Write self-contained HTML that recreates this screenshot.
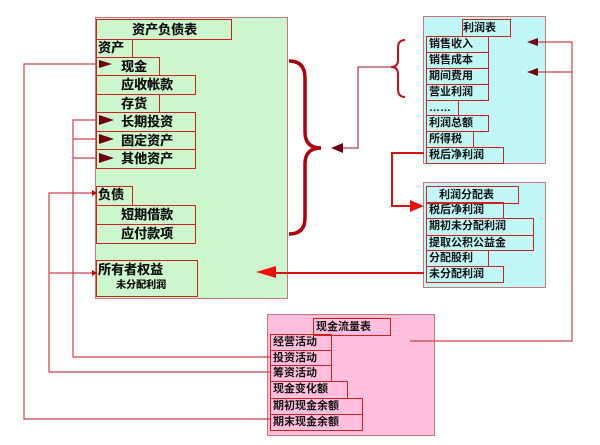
<!DOCTYPE html>
<html><head><meta charset="utf-8"><style>
body{margin:0;width:600px;height:445px;background:#fff;position:relative;overflow:hidden;font-family:"Liberation Sans","Noto Sans CJK SC","WenQuanYi Zen Hei",sans-serif;font-weight:bold;color:#111}
.box{position:absolute;box-sizing:border-box;border:1.5px solid #c87878}
.c{position:absolute;box-sizing:border-box;border:1.3px solid #d02020;font-size:11px;line-height:1;white-space:nowrap;padding:2px 0 0 2px;overflow:visible}
.t{font-size:13px;text-shadow:0.3px 0 0 #111}
svg{position:absolute;left:0;top:0}
</style></head><body>
<div class="box" style="left:95px;top:17px;width:193px;height:282px;background:#ccf7cc"></div>
<div class="box" style="left:423px;top:16px;width:123px;height:148px;background:#c0f7f7"></div>
<div class="box" style="left:423px;top:182px;width:123px;height:106px;background:#c0f7f7"></div>
<div class="box" style="left:267px;top:314px;width:168px;height:122px;background:#ffbfdd"></div>

<div class="c t" style="left:96px;top:19px;width:136px;height:21px;padding:3px 0 0 35px">资产负债表</div>
<div class="c t" style="left:96px;top:39px;width:37px;height:19px;padding:1px 0 0 1px">资产</div>
<div class="c t" style="left:96px;top:57px;width:64px;height:19px;padding:2px 0 0 24px">现金</div>
<div class="c t" style="left:96px;top:75px;width:100px;height:20px;padding:2px 0 0 24px">应收帐款</div>
<div class="c t" style="left:96px;top:94px;width:64px;height:19px;padding:2px 0 0 24px">存货</div>
<div class="c t" style="left:96px;top:112px;width:100px;height:20px;padding:2px 0 0 24px">长期投资</div>
<div class="c t" style="left:96px;top:131px;width:100px;height:19px;padding:2px 0 0 24px">固定资产</div>
<div class="c t" style="left:96px;top:149px;width:100px;height:20px;padding:2px 0 0 24px">其他资产</div>
<div class="c t" style="left:96px;top:186px;width:37px;height:20px;padding:1px 0 0 1px">负债</div>
<div class="c t" style="left:96px;top:205px;width:100px;height:20px;padding:2px 0 0 24px">短期借款</div>
<div class="c t" style="left:96px;top:224px;width:100px;height:20px;padding:2px 0 0 24px">应付款项</div>
<div class="c t" style="left:96px;top:260px;width:102px;height:37px;padding:2px 0 0 1px">所有者权益<br><span style="font-size:10px;display:inline-block;margin:5px 0 0 18px">未分配利润</span></div>

<div class="c" style="left:462px;top:19px;width:49px;height:18px;padding:3px 0 0 0">利润表</div>
<div class="c" style="left:426px;top:36px;width:63px;height:17px">销售收入</div>
<div class="c" style="left:426px;top:52px;width:63px;height:17px">销售成本</div>
<div class="c" style="left:426px;top:68px;width:63px;height:17px">期间费用</div>
<div class="c" style="left:426px;top:84px;width:63px;height:17px">营业利润</div>
<div class="c" style="left:426px;top:100px;width:33px;height:16px">……</div>
<div class="c" style="left:426px;top:115px;width:63px;height:17px">利润总额</div>
<div class="c" style="left:426px;top:131px;width:48px;height:17px">所得税</div>
<div class="c" style="left:426px;top:147px;width:78px;height:17px">税后净利润</div>

<div class="c" style="left:426px;top:186px;width:93px;height:18px;padding:3px 0 0 12px">利润分配表</div>
<div class="c" style="left:426px;top:202px;width:78px;height:17px">税后净利润</div>
<div class="c" style="left:426px;top:218px;width:108px;height:18px">期初未分配利润</div>
<div class="c" style="left:426px;top:235px;width:108px;height:16px">提取公积公益金</div>
<div class="c" style="left:426px;top:250px;width:63px;height:17px">分配股利</div>
<div class="c" style="left:426px;top:266px;width:78px;height:17px">未分配利润</div>

<div class="c" style="left:313px;top:318px;width:78px;height:18px;padding:3px 0 0 2px">现金流量表</div>
<div class="c" style="left:270px;top:334px;width:62px;height:17px">经营活动</div>
<div class="c" style="left:270px;top:350px;width:62px;height:16px">投资活动</div>
<div class="c" style="left:270px;top:365px;width:62px;height:17px">筹资活动</div>
<div class="c" style="left:270px;top:381px;width:78px;height:18px">现金变化额</div>
<div class="c" style="left:270px;top:398px;width:93px;height:17px">期初现金余额</div>
<div class="c" style="left:270px;top:414px;width:93px;height:17px">期末现金余额</div>

<svg width="600" height="445" viewBox="0 0 600 445">
<g fill="none" stroke="#d04050" stroke-width="1.2">
<polyline points="270,419 24,419 24,64 97,64"/>
<polyline points="270,357 73,357 73,120 97,120"/>
<line x1="73" y1="139" x2="97" y2="139"/><line x1="73" y1="158" x2="97" y2="158"/>
<polyline points="270,372 49,372 49,193 92,193"/>
<line x1="49" y1="273" x2="92" y2="273"/>
<polyline points="410,341 572,341 572,42 536,42"/>
<line x1="572" y1="72" x2="536" y2="72"/>
<polyline points="391,67 358,67 358,148 343,148" stroke="#c06070" stroke-width="1.5"/>
</g>
<g fill="#c00000">
<polygon points="92,190 97,193 92,196"/><polygon points="92,270 97,273 92,276"/>
</g>
<g fill="#700010">
<polygon points="99,60 112,64 99,68"/><polygon points="99,115 114,120 99,125"/><polygon points="99,134 114,139 99,144"/><polygon points="99,153 114,158 99,163"/>
<polygon points="331,148 343,143 343,153"/>
<polygon points="527,42 538,38 538,46"/><polygon points="527,72 538,68 538,76"/>
</g>
<path d="M289,61 Q305,61 305,78 L305,132 Q305,148 321,148 Q305,148 305,164 L305,218 Q305,234 289,234" fill="none" stroke="#b00010" stroke-width="3.5"/>
<path d="M405,40 Q398,40 398,48 L398,60 Q398,67 391,67 Q398,67 398,74 L398,89 Q398,97 405,97" fill="none" stroke="#c01020" stroke-width="2"/>
<polyline points="424,153 392,153 392,206 412,206" fill="none" stroke="#dd1010" stroke-width="2"/>
<polygon points="424,206 410,200 410,212" fill="#ee1010"/>
<line x1="424" y1="273" x2="270" y2="273" stroke="#dd1010" stroke-width="2"/>
<polygon points="256,272 276,266 276,278" fill="#ee1010"/>
</svg>
</body></html>
